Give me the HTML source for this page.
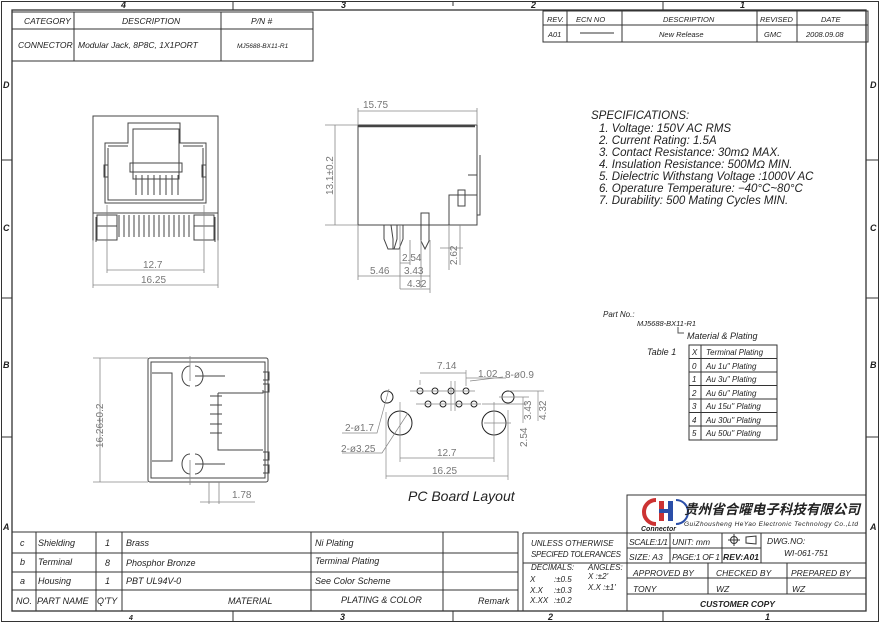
<!DOCTYPE html>
<html><head><meta charset="utf-8"><style>
html,body{margin:0;padding:0;background:#fff;}
svg{display:block;}
text{font-family:"Liberation Sans","Noto Sans CJK SC",sans-serif;font-style:italic;fill:#222;}
.d{fill:#777;font-style:normal;font-size:10px;}
</style></head><body>
<svg width="880" height="623" viewBox="0 0 880 623" xmlns="http://www.w3.org/2000/svg">
<g fill="none" stroke="#333" stroke-width="1">
<rect x="1.5" y="1.5" width="877" height="620"/>
<rect x="12" y="10" width="854" height="601" stroke-width="1.3"/>
<path d="M233 1v9M453 1v5M663 1v9M233 611v10M453 611v10M663 611v10M1 160h11M1 298h11M1 437h11M866 160h13M866 298h13M866 437h13"/>
<rect x="12" y="12" width="301" height="49"/>
<path d="M12 29h301M74 12v49M221 12v49"/>
<rect x="543" y="11" width="325" height="31"/>
<path d="M543 25h325M567 11v31M622 11v31M757 11v31M797 11v31M580 33h34"/>
<path d="M12 532h506v79M12 553h506M12 572h506M12 590h506M36 532v79M96 532v79M122 532v79M311 532v79M443 532v79"/>
<path d="M523 533h104M523 533v78M523 563h104"/>
<rect x="627" y="495" width="239" height="116"/>
<path d="M627 533h239M627 548h134M627 563h239M627 578h239M627 594h239M670 533v30M722 533v30M761 533v30M708 563v31M787 563v31"/>
<rect x="689" y="345" width="88" height="95"/>
<path d="M689 358.5h88M689 372h88M689 385.5h88M689 399h88M689 412.5h88M689 426h88M701 345v95"/>
<path d="M678 327v6h6" stroke="#555"/>
</g>
<g font-size="9" font-weight="bold">
<text x="121" y="8">4</text><text x="341" y="8">3</text><text x="531" y="8">2</text><text x="740" y="8">1</text>
<text x="129" y="620" font-size="7">4</text><text x="340" y="620">3</text><text x="548" y="620">2</text><text x="765" y="620">1</text>
<text x="3" y="88">D</text><text x="3" y="231">C</text><text x="3" y="368">B</text><text x="3" y="530">A</text>
<text x="870" y="88">D</text><text x="870" y="231">C</text><text x="870" y="368">B</text><text x="870" y="530">A</text>
</g>
<g font-size="8.5">
<text x="24" y="24">CATEGORY</text><text x="122" y="24">DESCRIPTION</text><text x="251" y="24">P/N #</text>
<text x="18" y="48">CONNECTOR</text><text x="78" y="48">Modular Jack, 8P8C, 1X1PORT</text>
<text x="237" y="48" font-size="6.5">MJ5688-BX11-R1</text>
</g>
<g font-size="7.5">
<text x="547" y="22">REV.</text><text x="576" y="22">ECN NO</text><text x="663" y="22">DESCRIPTION</text><text x="760" y="22">REVISED</text><text x="821" y="22">DATE</text>
<text x="548" y="37">A01</text><text x="659" y="37">New Release</text><text x="764" y="37">GMC</text><text x="806" y="37">2008.09.08</text>
</g>
<g font-size="11.5" font-style="italic">
<text x="591" y="119">SPECIFICATIONS:</text>
<text x="599" y="132">1. Voltage: 150V AC RMS</text>
<text x="599" y="144">2. Current Rating: 1.5A</text>
<text x="599" y="156">3. Contact Resistance: 30mΩ MAX.</text>
<text x="599" y="168">4. Insulation Resistance: 500MΩ MIN.</text>
<text x="599" y="180">5. Dielectric Withstang Voltage :1000V AC</text>
<text x="599" y="192">6. Operature Temperature: −40°C~80°C</text>
<text x="599" y="204">7. Durability: 500 Mating Cycles MIN.</text>
</g>
<g font-size="8">
<text x="603" y="317" fill="#777">Part No.:</text>
<text x="637" y="326" fill="#555" font-size="7.5">MJ5688-BX11-R1</text>
<text x="687" y="339" font-size="9">Material &amp; Plating</text>
<text x="647" y="355" font-size="9">Table 1</text>
<text x="692" y="355">X</text><text x="706" y="355">Terminal Plating</text>
<text x="692" y="369">0</text><text x="706" y="369">Au 1u" Plating</text>
<text x="692" y="382">1</text><text x="706" y="382">Au 3u" Plating</text>
<text x="692" y="396">2</text><text x="706" y="396">Au 6u" Plating</text>
<text x="692" y="409">3</text><text x="706" y="409">Au 15u" Plating</text>
<text x="692" y="423">4</text><text x="706" y="423">Au 30u" Plating</text>
<text x="692" y="436">5</text><text x="706" y="436">Au 50u" Plating</text>
</g>
<g font-size="9" fill="#444">
<text x="20" y="546">c</text><text x="38" y="546">Shielding</text><text x="105" y="546">1</text><text x="126" y="546">Brass</text><text x="315" y="546">Ni Plating</text>
<text x="20" y="565">b</text><text x="38" y="565">Terminal</text><text x="105" y="566">8</text><text x="126" y="566">Phosphor Bronze</text><text x="315" y="564" font-style="normal">Terminal Plating</text>
<text x="20" y="584">a</text><text x="38" y="584">Housing</text><text x="105" y="584">1</text><text x="126" y="584">PBT UL94V-0</text><text x="315" y="584">See Color Scheme</text>
<text x="16" y="604">NO.</text><text x="37" y="604">PART NAME</text><text x="97" y="604">Q'TY</text><text x="228" y="604">MATERIAL</text><text x="341" y="603">PLATING &amp; COLOR</text><text x="478" y="604">Remark</text>
</g>
<g font-size="8">
<text x="531" y="546">UNLESS OTHERWISE</text><text x="531" y="557" textLength="90">SPECIFED TOLERANCES</text>
<text x="531" y="570">DECIMALS:</text><text x="588" y="570">ANGLES:</text>
<text x="530" y="582">X</text><text x="554" y="582">:±0.5</text><text x="588" y="579">X :±2'</text>
<text x="530" y="593">X.X</text><text x="554" y="593">:±0.3</text><text x="588" y="590">X.X :±1'</text>
<text x="530" y="603">X.XX</text><text x="554" y="603">:±0.2</text>
</g>
<g>
<path d="M656 500 a12 12 0 0 0 0 24" fill="none" stroke="#c33" stroke-width="4"/>
<rect x="659" y="501" width="5" height="20" fill="#c33"/><rect x="668" y="501" width="5" height="20" fill="#2a4ea8"/><rect x="659" y="509" width="14" height="4" fill="#2a4ea8"/>
<path d="M676 500 a12 12 0 0 1 0 24" fill="none" stroke="#2a4ea8" stroke-width="2"/>
<text x="641" y="531" font-size="7" font-weight="bold" font-style="normal">Connector</text>
<text x="684" y="514" font-size="13.5" font-weight="bold" font-style="normal" fill="#111" textLength="176" lengthAdjust="spacingAndGlyphs">贵州省合曜电子科技有限公司</text>
<text x="684" y="526" font-size="6.5" font-style="normal" fill="#555" textLength="174">GuiZhousheng HeYao Electronic Technology Co.,Ltd</text>
<g font-size="8.5">
<text x="629" y="545" textLength="39">SCALE:1/1</text><text x="672" y="545">UNIT: mm</text><text x="767" y="544">DWG.NO:</text>
<text x="629" y="560">SIZE: A3</text><text x="672" y="560" textLength="48">PAGE:1 OF 1</text><text x="723" y="560" font-family="Liberation Serif" font-weight="bold" font-style="normal" textLength="36">REV:A01</text>
<text x="784" y="556">WI-061-751</text>
<text x="633" y="576">APPROVED BY</text><text x="716" y="576">CHECKED BY</text><text x="791" y="576">PREPARED BY</text>
<text x="633" y="592">TONY</text><text x="716" y="592">WZ</text><text x="792" y="592">WZ</text>
<text x="700" y="607" font-family="Liberation Serif" font-weight="bold">CUSTOMER COPY</text>
</g>
<g fill="none" stroke="#333"><circle cx="734" cy="540" r="3.5"/><path d="M728 540h12M734 534v12M746 537l10-1v8l-10-1z"/></g>
</g>
<g fill="none" stroke="#444" stroke-width="1">
<path d="M93 116h125v97H93z"/>
<path d="M93 213v28M218 213v28M96 217v25M215 217v25"/>
<path d="M105 143h23v-20h52v20h26v60H105z"/>
<path d="M108 146h20M183 146h20M108 148v52h95v-52"/>
<path d="M133 129h46v50h-46zM130 163h52v9h-52z"/>
<path d="M104 165h4v12h-4zM202 165h4v12h-4z"/>
<path d="M97 215h20v25h-20zM194 215h20v25h-20zM97 226h20M194 226h20"/>
<path d="M136 175v20M142 175v20M148 175v20M154 175v20M160 175v20M166 175v20M172 175v20M178 175v20"/>
<path d="M119 215v22M124 215v22M129 215v22M134 215v22M139 215v22M144 215v22M149 215v22M154 215v22M159 215v22M164 215v22M169 215v22M174 215v22M179 215v22M184 215v22M189 215v22"/>
</g>
<g stroke="#888" fill="none" stroke-width="0.8"><path d="M107 205v68M204 205v68M93 240v48M218 240v48M107 270h97M93 285h125"/></g>
<text class="d" x="143" y="268">12.7</text><text class="d" x="141" y="283">16.25</text>
<g fill="none" stroke="#444">
<rect x="358" y="125" width="119" height="100"/>
<path d="M358 126h117" stroke-width="2.5"/>
<path d="M477 125v90h3v-60M468 175h9M449 195h28v30h-28z"/>
<rect x="458" y="190" width="7" height="16"/>
<path d="M384 225v14l4 10h5v-10l-2-14M397 225v14l-3 10h5l4-10v-14M421 213v28l4 8l4-8v-28z"/>
</g>
<g stroke="#888" fill="none" stroke-width="0.8"><path d="M358 108v17M477 108v17M358 111h119M325 125h33M325 225h33M335 125v100M358 225v55M400 225v64M410 240v25M421 240v48M430 240v53M460 225v40M440 248h23M449 225v45M400 263h10M358 276h42M400 276h30M400 289h30"/></g>
<text class="d" x="363" y="108" font-size="11">15.75</text>
<text class="d" transform="translate(333 195) rotate(-90)" font-size="10">13.1±0.2</text>
<text class="d" x="370" y="274" font-size="8">5.46</text><text class="d" x="402" y="261" font-size="8">2.54</text><text class="d" x="404" y="274" font-size="8">3.43</text><text class="d" x="407" y="287" font-size="8">4.32</text>
<text class="d" transform="translate(457 265) rotate(-90)" font-size="9">2.62</text>
<g fill="none" stroke="#444">
<rect x="148" y="358" width="120" height="124" rx="2"/>
<rect x="151" y="362" width="114" height="116"/>
<path d="M152 373h20v88h-20M218 393h45v-3M218 393v57h45"/>
<path d="M190 366a8 10 0 0 0 0 20M195 366a8 10 0 0 1 0 20M190 454a8 10 0 0 0 0 20M195 454a8 10 0 0 1 0 20M195 376h30M195 464h30"/>
<path d="M210 396h12M210 405h12M210 414h12M210 424h12M210 433h12M263 372h6v8h-6M263 384h6v8h-6M263 452h6v8h-6M263 465h6v8h-6"/>
</g>
<g stroke="#888" fill="none" stroke-width="0.8"><path d="M148 358h-55M148 482h-55M100 358v124M209 482v22M219 482v22M200 502h55M190 356v25M190 460v25"/></g>
<text class="d" transform="translate(103 448) rotate(-90)" font-size="10">16.26±0.2</text>
<text class="d" x="232" y="498">1.78</text>
<g fill="none" stroke="#222">
<circle cx="420" cy="391" r="3"/><circle cx="435" cy="391" r="3"/><circle cx="451" cy="391" r="3"/><circle cx="466" cy="391" r="3"/>
<circle cx="428" cy="404" r="3"/><circle cx="443" cy="404" r="3"/><circle cx="459" cy="404" r="3"/><circle cx="474" cy="404" r="3"/>
<circle cx="387" cy="397" r="6"/><circle cx="508" cy="397" r="6"/>
<circle cx="400" cy="423" r="12"/><circle cx="494" cy="423" r="12"/>
</g>
<g stroke="#888" fill="none" stroke-width="0.7">
<path d="M410 391h65M416 404h65M420 380v5M466 370v16M420 373h46M451 381v30M455 381v30M466 378h40M470 381l33-4M400 402v60M494 402v60M386 412v67M508 410v70M386 476h122M400 458h94M499 397h30M482 404h45M484 423h27M523 397v26M538 391v30M509 391h35M389 389l-12 44h-35M408 413l-26 40h-40"/>
</g>
<text class="d" x="437" y="369" font-size="9">7.14</text><text class="d" x="478" y="377" font-size="9">1.02</text><text class="d" x="505" y="378" font-size="9">8-ø0.9</text>
<text class="d" x="345" y="431" font-size="9">2-ø1.7</text><text class="d" x="341" y="452" font-size="9">2-ø3.25</text>
<text class="d" x="437" y="456" font-size="9">12.7</text><text class="d" x="432" y="474" font-size="9">16.25</text>
<text class="d" transform="translate(531 420) rotate(-90)" font-size="9">3.43</text>
<text class="d" transform="translate(527 447) rotate(-90)" font-size="9">2.54</text>
<text class="d" transform="translate(546 420) rotate(-90)" font-size="9">4.32</text>
<text x="408" y="501" font-family="Liberation Serif" font-style="normal" font-size="14" fill="#222">PC Board Layout</text>
</svg>
</body></html>
